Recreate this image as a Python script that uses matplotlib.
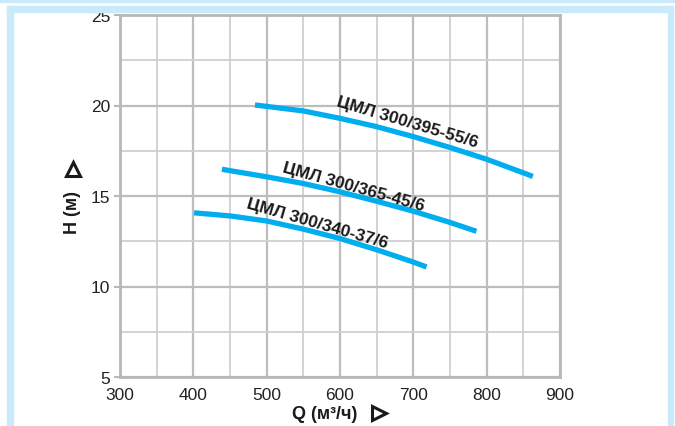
import matplotlib
matplotlib.use('Agg')
import matplotlib.pyplot as plt
from matplotlib.patches import Rectangle

# pump curves
q1 = [484, 550, 600, 650, 700, 750, 800, 850, 863]
h1 = [20.03, 19.7, 19.29, 18.83, 18.28, 17.68, 17.03, 16.28, 16.08]
q2 = [439, 450, 500, 550, 600, 650, 700, 750, 786]
h2 = [16.48, 16.40, 16.06, 15.69, 15.23, 14.71, 14.16, 13.54, 13.05]
q3 = [401, 450, 500, 550, 600, 650, 700, 718]
h3 = [14.07, 13.9, 13.62, 13.17, 12.65, 12.03, 11.35, 11.08]

names = ['ЦМЛ 300/395-55/6', 'ЦМЛ 300/365-45/6', 'ЦМЛ 300/340-37/6']
label_q = [692, 619, 569]
label_h = [19.12, 15.54, 13.52]
label_rot = [-16.5, -15.5, -16]

xticks = [300, 400, 500, 600, 700, 800, 900]
yticks = [5, 10, 15, 20, 25]

W, H = 675, 427
fig = plt.figure(figsize=(W / 100, H / 100), dpi=100)
fig.patch.set_facecolor('white')

frame = '#c8eafa'
def px_rect(x0, y0, x1, y1):
    # rectangle given in pixel coords, y from top
    fig.patches.append(Rectangle((x0 / W, 1 - y1 / H), (x1 - x0) / W, (y1 - y0) / H,
                                 transform=fig.transFigure, color=frame, zorder=0))
px_rect(0, 0, W, 3)
px_rect(7, 7, 673, 12.5)
px_rect(7, 7, 12.5, H)
px_rect(667.5, 7, 673, H)

ax = fig.add_axes([120 / W, 1 - 378 / H, 440 / W, 362 / H])
ax.set_xlim(300, 900)
ax.set_ylim(5, 25)
ax.set_xticks(xticks)
ax.set_yticks(yticks)
ax.set_xticks(range(350, 900, 100), minor=True)
ax.set_yticks([7.5, 12.5, 17.5, 22.5], minor=True)
ax.grid(True, which='major', color='#bdbdbd', lw=1.6)
ax.grid(True, which='minor', color='#d0d0d0', lw=1.3)
ax.set_axisbelow(True)
for s in ax.spines.values():
    s.set_color('#b8b8b8')
    s.set_linewidth(2)

tfont = ['Liberation Sans', 'DejaVu Sans']
ax.tick_params(axis='x', which='both', length=0, pad=7, labelsize=12.5, labelcolor='#222222')
ax.tick_params(axis='y', which='major', length=4, width=1.5, color='#b8b8b8', pad=3,
               labelsize=12.5, labelcolor='#222222')
ax.tick_params(axis='y', which='minor', length=0)
for lab in ax.get_xticklabels() + ax.get_yticklabels():
    lab.set_family(tfont)

blue = '#00aeef'
for q, h in [(q1, h1), (q2, h2), (q3, h3)]:
    ax.plot(q, h, color=blue, lw=3.8, solid_capstyle='butt', solid_joinstyle='round')

for name, lq, lh, r in zip(names, label_q, label_h, label_rot):
    ax.text(lq, lh, name, rotation=r, rotation_mode='anchor', ha='center', va='center',
            fontsize=12.5, fontweight='bold', family=tfont, color='#1a1a1a')

dark = '#1a1a1a'
ax.text(0.465, -0.102, 'Q (м³/ч)', transform=ax.transAxes, ha='center', va='center',
        fontsize=13, fontweight='bold', family=tfont, color=dark)
ax.plot([0.588], [-0.1], transform=ax.transAxes, marker='>', ms=10, mfc='white',
        mec=dark, mew=2.2, clip_on=False)
ax.text(-0.108, 0.457, 'H (м)', transform=ax.transAxes, ha='center', va='center',
        rotation=90, fontsize=13, fontweight='bold', family=tfont, color=dark)
ax.plot([-0.106], [0.575], transform=ax.transAxes, marker='^', ms=10, mfc='white',
        mec=dark, mew=2.2, clip_on=False)

fig.savefig('out.png', dpi=100)
